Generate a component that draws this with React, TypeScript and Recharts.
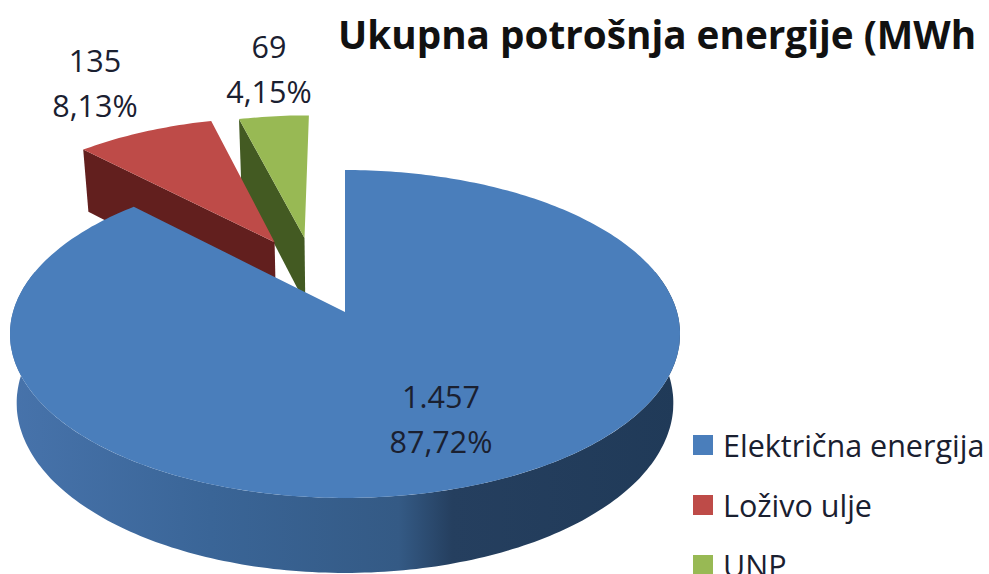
import React from "react";
import { PieChart, Pie, Legend } from "recharts";

const categories = ["Električna energija", "Loživo ulje", "UNP"];
const values = [1457, 135, 69];
const valueLabels = ["1.457", "135", "69"];
const percentLabels = ["87,72%", "8,13%", "4,15%"];

const colors = ["#4a7ebb", "#be4b48", "#98b954"];
const edgeColors = ["#1f3a58", "#621f1e", "#435a22"];
// how far each slice is pulled out, in units of the pie radius
const explode = [[0, 0], [-0.225, -0.46], [-0.13, -0.49]];
// exploded slices look a bit smaller in the original
const sliceScale = [1, 0.985, 0.97];
const labelPos = [[441, 396], [95, 60], [269, 46]];

// drawn back to front: the big slice has to sit on top of the small ones
const data = categories
  .map((name, i) => ({ name, value: values[i], fill: colors[i], idx: i }))
  .reverse();

const TILT = 0.485;
const PERSP = 0.134;
const DEPTH = 68.3;
const RAD = Math.PI / 180;

function project(cx: number, cy: number, r: number, u: number, v: number, low = false) {
  const w = 1 - PERSP * v;
  const x = (r * u) / w;
  const y = (r * TILT * v) / w;
  if (!low) return [cx + x, cy + y];
  return [cx + x * 0.98, cy + y + DEPTH * Math.pow(w, -0.65)];
}

function arc(cx: number, cy: number, r: number, a1: number, a2: number, off: number[], s: number, low = false) {
  const pts: number[][] = [];
  const n = Math.max(2, Math.ceil(Math.abs(a2 - a1)));
  for (let i = 0; i <= n; i++) {
    const a = (a1 + ((a2 - a1) * i) / n) * RAD;
    pts.push(project(cx, cy, r, off[0] + s * Math.cos(a), off[1] - s * Math.sin(a), low));
  }
  return pts;
}

const toPath = (pts: number[][]) =>
  "M" + pts.map((p) => p[0].toFixed(1) + " " + p[1].toFixed(1)).join("L") + "Z";

function Slice(props: any) {
  const { cx, cy, outerRadius, startAngle, endAngle, payload } = props;
  const idx = payload.idx;
  const off = explode[idx];
  const s = sliceScale[idx];
  const top = [project(cx, cy, outerRadius, off[0], off[1]), ...arc(cx, cy, outerRadius, startAngle, endAngle, off, s)];

  // outer wall, only the part that faces the viewer
  const a1 = Math.max(startAngle, 165);
  const a2 = Math.min(endAngle, 375);
  const wall = a2 > a1
    ? [...arc(cx, cy, outerRadius, a1, a2, off, s), ...arc(cx, cy, outerRadius, a2, a1, off, s, true)]
    : null;

  // cut face along the end edge of the slice
  let cut: number[][] | null = null;
  if (Math.sin((endAngle + 90) * RAD) < -0.01) {
    const a = endAngle * RAD;
    const ou = off[0] + s * Math.cos(a);
    const ov = off[1] - s * Math.sin(a);
    cut = [
      project(cx, cy, outerRadius, off[0], off[1]),
      project(cx, cy, outerRadius, ou, ov),
      project(cx, cy, outerRadius, ou, ov, true),
      project(cx, cy, outerRadius, off[0], off[1], true),
    ];
  }

  return (
    <g>
      <defs>
        <linearGradient id="blueWall" x1="0" y1="0" x2="1" y2="0">
          <stop offset="0" stopColor="#4773ab" />
          <stop offset="0.3" stopColor="#3a6597" />
          <stop offset="0.58" stopColor="#345a85" />
          <stop offset="0.66" stopColor="#253f5f" />
          <stop offset="1" stopColor="#203a58" />
        </linearGradient>
      </defs>
      {cut && <path d={toPath(cut)} fill={edgeColors[idx]} />}
      {wall && <path d={toPath(wall)} fill="url(#blueWall)" />}
      <path d={toPath(top)} fill={colors[idx]} />
    </g>
  );
}

function SliceLabel(props: any) {
  const idx = props.payload ? props.payload.idx : props.idx;
  const p = labelPos[idx];
  return (
    <g fontFamily="Open Sans" fontSize={30.5} fill="#1a2030" textAnchor="middle">
      <text x={p[0]} y={p[1]} dominantBaseline="central">{valueLabels[idx]}</text>
      <text x={p[0]} y={p[1] + 45} dominantBaseline="central">{percentLabels[idx]}</text>
    </g>
  );
}

function LegendList(props: any) {
  return (
    <div>
      {props.payload.map((entry: any) => (
        <div key={entry.value} style={{ display: "flex", alignItems: "center", height: 60, whiteSpace: "nowrap" }}>
          <span style={{ width: 20, height: 20, marginRight: 10, background: entry.color }} />
          <span style={{ color: "#1a2030", fontFamily: "Open Sans", fontSize: 30.5 }}>{entry.value}</span>
        </div>
      ))}
    </div>
  );
}

export default function App() {
  return (
    <div style={{ position: "absolute", left: 0, top: 0, width: 989, height: 574, overflow: "hidden", background: "#fff" }}>
      <div
        style={{
          position: "absolute",
          left: 338,
          top: 7,
          whiteSpace: "nowrap",
          fontFamily: "Open Sans",
          fontWeight: 700,
          fontSize: 38.7,
          lineHeight: "54px",
          color: "#111",
        }}
      >
        Ukupna potrošnja energije (MWh
      </div>
      <PieChart width={989} height={574} margin={{ top: 0, right: 0, bottom: 0, left: 0 }}>
        <Pie
          data={data}
          dataKey="value"
          nameKey="name"
          cx={345}
          cy={312}
          outerRadius={332}
          startAngle={90}
          endAngle={450}
          paddingAngle={0}
          stroke="none"
          shape={Slice}
          label={SliceLabel}
          labelLine={false}
          isAnimationActive={false}
        />
        <Legend
          layout="vertical"
          itemSorter="value"
          wrapperStyle={{ left: 693, top: 415, width: 296, bottom: "auto", right: "auto" }}
          content={LegendList}
        />
      </PieChart>
    </div>
  );
}
